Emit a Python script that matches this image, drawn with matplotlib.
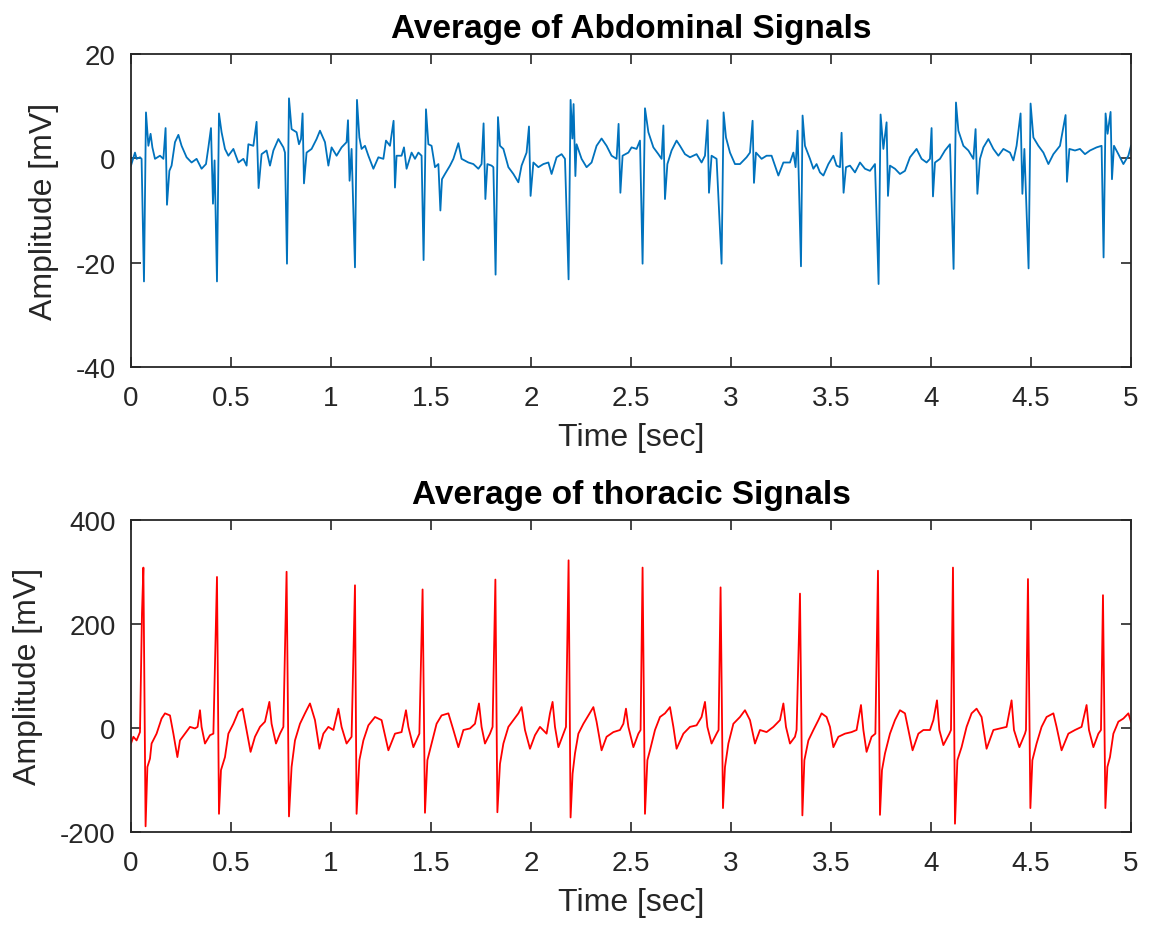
import matplotlib
matplotlib.use('Agg')
import matplotlib.pyplot as plt

plt.rc('font', family=['Liberation Sans', 'DejaVu Sans'])
plt.rc('axes', unicode_minus=False)

# Average of abdominal signals (time in sec, amplitude in mV)
abd_t = [
    0.000, 0.020, 0.028, 0.045, 0.053, 0.065, 0.075, 0.087, 0.098, 0.107,
    0.120, 0.145, 0.162, 0.173, 0.180, 0.192, 0.203, 0.220, 0.237, 0.253,
    0.278, 0.303, 0.328, 0.353, 0.375, 0.387, 0.400, 0.410, 0.418, 0.430,
    0.440, 0.453, 0.470, 0.487, 0.512, 0.537, 0.562, 0.578, 0.587, 0.612,
    0.628, 0.638, 0.653, 0.678, 0.695, 0.712, 0.737, 0.762, 0.770, 0.780,
    0.790, 0.803, 0.828, 0.840, 0.850, 0.858, 0.865, 0.878, 0.903, 0.928,
    0.945, 0.970, 0.987, 1.003, 1.028, 1.053, 1.078, 1.085, 1.093, 1.103,
    1.120, 1.130, 1.142, 1.153, 1.170, 1.187, 1.212, 1.237, 1.262, 1.275,
    1.295, 1.313, 1.320, 1.328, 1.353, 1.365, 1.378, 1.403, 1.420, 1.437,
    1.453, 1.463, 1.475, 1.487, 1.503, 1.520, 1.537, 1.547, 1.555, 1.570,
    1.595, 1.612, 1.637, 1.653,
    1.687, 1.712, 1.737, 1.753, 1.763, 1.772, 1.782, 1.803, 1.812, 1.823,
    1.835, 1.845, 1.862, 1.887, 1.912, 1.937, 1.953, 1.978, 1.990, 1.998,
    2.012, 2.037, 2.062, 2.087, 2.103, 2.128, 2.153, 2.170, 2.188, 2.198,
    2.207, 2.213, 2.222, 2.228, 2.253, 2.278, 2.303, 2.328, 2.353, 2.378,
    2.403, 2.428, 2.438, 2.447, 2.458, 2.487, 2.503, 2.528, 2.545, 2.558,
    2.570, 2.587, 2.612, 2.637, 2.653, 2.662, 2.670, 2.682, 2.703, 2.728,
    2.745, 2.770, 2.795, 2.828, 2.853, 2.870, 2.883, 2.890, 2.903, 2.928,
    2.953, 2.963, 2.975, 2.995, 3.020, 3.045, 3.078, 3.095, 3.108, 3.115,
    3.125, 3.153, 3.178, 3.203, 3.237, 3.262, 3.295,
    3.312, 3.323, 3.333, 3.350, 3.358, 3.370, 3.395, 3.412, 3.428, 3.445,
    3.462, 3.487, 3.512, 3.528, 3.545, 3.553, 3.563, 3.575, 3.595, 3.620,
    3.645, 3.670, 3.695, 3.720, 3.738, 3.748, 3.762, 3.778, 3.785, 3.795,
    3.820, 3.845, 3.870, 3.895, 3.928, 3.953, 3.978, 3.995, 4.003, 4.010,
    4.020, 4.045, 4.070, 4.095, 4.113, 4.125, 4.137, 4.162, 4.187, 4.212,
    4.223, 4.232, 4.245, 4.262, 4.287, 4.312, 4.337, 4.362, 4.395, 4.412,
    4.428, 4.448, 4.457, 4.467, 4.488, 4.498, 4.512, 4.537, 4.562, 4.587,
    4.612, 4.645, 4.673, 4.680, 4.692, 4.720, 4.745, 4.770, 4.795, 4.828,
    4.853, 4.863, 4.873, 4.883, 4.898, 4.905, 4.915, 4.937, 4.962, 4.987,
    5.000,
]
abd_mv = [
    -1.4, 1.1, -0.1, 0.2, -0.1, -23.6, 8.8, 2.4, 4.7, 2.1,
    -0.1, 0.5, -0.1, 5.8, -8.9, -2.4, -1.4, 3.1, 4.5, 2.4,
    0.2, -0.8, -0.1, -2.0, -1.1, 2.1, 5.8, -8.7, -0.4, -23.6,
    8.6, 5.0, 1.8, 0.5, 1.8, -0.8, -0.1, -1.4, 2.7, 2.4,
    7.0, -5.7, 0.8, 1.5, -1.4, 1.5, 3.7, 2.1, 1.1, -20.2,
    11.5, 5.6, 5.0, 2.7, 3.7, 8.6, -4.8, 1.1, 1.8, 3.7,
    5.3, 3.1, -1.4, 2.1, 0.5, 2.1, 3.1, 7.3, -4.3, 1.8,
    -20.9, 11.2, 4.0, 1.8, 2.4, 0.5, -2.0, 0.2, -0.1, 3.4,
    2.4, 7.2, -5.6, 0.5, 0.5, 2.1, -2.0, 1.1, -0.1, 1.1,
    0.5, -19.5, 9.4, 2.7, 2.4, -1.7, -1.1, -10.0, -4.0, -3.0,
    -1.4, -0.1, 2.9, -0.1,
    -0.8, -1.1, -2.0, -1.1, 6.7, -7.8, -1.1, -1.4, -1.7, -22.3,
    7.9, 2.4, 1.8, -1.7, -3.0, -4.6, -1.4, 1.1, 6.1, -7.2,
    -0.8, -1.7, -1.1, -0.8, -3.0, 0.2, 0.8, -0.1, -23.2, 11.2,
    3.8, 10.4, -3.4, 2.7, -0.1, -1.7, -0.8, 2.4, 3.8, 2.4,
    0.5, -0.1, 6.6, -6.6, 0.5, 1.1, 2.1, 1.8, 3.4, -20.2,
    9.6, 5.0, 2.1, 0.8, -0.1, 6.3, -7.8, -1.1, 1.5, 3.4,
    2.4, 0.8, 0.2, 0.8, -0.8, 0.5, 7.3, -6.6, 0.5, -0.1,
    -20.2, 8.8, 4.0, 1.1, -1.1, -1.1, 0.2, 1.1, 7.2, -4.7,
    1.1, -0.1, 0.5, 0.5, -3.3, -0.8, -0.8,
    1.1, -1.7, 5.3, -20.7, 8.2, 2.4, -0.1, -2.0, -1.1, -2.7,
    -3.3, -1.1, 0.5, -1.4, -1.7, 4.9, -6.6, -1.7, -1.4, -2.7,
    -0.8, -2.0, -2.4, -1.1, -24.1, 8.4, 1.8, 6.9, -7.2, -1.4,
    -2.0, -3.0, -2.4, 0.2, 1.8, -0.1, -0.8, -0.1, 5.8, -7.3,
    -0.8, -0.1, 1.5, 2.7, -21.2, 10.7, 5.3, 2.4, 1.5, -0.1,
    5.6, -6.8, -0.1, 2.1, 3.7, 1.8, 0.5, 1.8, 1.1, -0.4,
    2.4, 8.6, -6.8, 1.8, -21.1, 10.5, 4.0, 2.4, 1.1, -1.1,
    0.8, 2.4, 8.3, -4.5, 1.8, 1.5, 1.8, 0.8, 1.5, 2.1,
    2.4, -19.0, 8.6, 4.7, 8.9, -4.0, 2.4, 0.8, -1.1, 0.5,
    2.4,
]

# Average of thoracic signals (time in sec, amplitude in mV)
tho_t = [
    0.000, 0.012, 0.028, 0.045, 0.055, 0.062, 0.073, 0.082, 0.095, 0.103,
    0.128, 0.153, 0.170, 0.195, 0.212, 0.232, 0.245, 0.270, 0.295, 0.320,
    0.333, 0.345, 0.353, 0.370, 0.395, 0.412, 0.422, 0.430, 0.440, 0.450,
    0.470, 0.487, 0.512, 0.537, 0.558, 0.578, 0.598, 0.620, 0.645, 0.670,
    0.692, 0.703, 0.725, 0.745, 0.762, 0.778, 0.790, 0.803, 0.820, 0.845,
    0.870, 0.895, 0.920, 0.942, 0.962, 0.987, 1.012, 1.037, 1.053, 1.078,
    1.103, 1.120, 1.128, 1.142, 1.162, 1.187, 1.220, 1.253, 1.287, 1.320,
    1.353, 1.375, 1.387, 1.412, 1.442, 1.458, 1.470, 1.482, 1.503, 1.528,
    1.553, 1.587, 1.612, 1.637, 1.662,
    1.695, 1.720, 1.740, 1.753, 1.770, 1.795, 1.808, 1.822, 1.832, 1.845,
    1.862, 1.887, 1.912, 1.937, 1.953, 1.970, 1.995, 2.020, 2.045, 2.078,
    2.095, 2.108, 2.120, 2.137, 2.162, 2.175, 2.188, 2.198, 2.208, 2.220,
    2.237, 2.262, 2.287, 2.312, 2.328, 2.353, 2.378, 2.412, 2.445, 2.462,
    2.475, 2.487, 2.512, 2.537, 2.548, 2.558, 2.570, 2.582, 2.595, 2.620,
    2.645, 2.670, 2.695, 2.712, 2.728, 2.762, 2.795, 2.828, 2.853, 2.870,
    2.882, 2.903, 2.928, 2.938, 2.948, 2.960, 2.970, 2.987, 3.012, 3.045,
    3.070, 3.095, 3.120, 3.145, 3.178, 3.212, 3.245, 3.262, 3.275, 3.295,
    3.320,
    3.328, 3.345, 3.357, 3.367, 3.387, 3.412, 3.437, 3.453, 3.478, 3.495,
    3.512, 3.537, 3.570, 3.603, 3.628, 3.650, 3.662, 3.678, 3.703, 3.722,
    3.735, 3.745, 3.755, 3.770, 3.795, 3.820, 3.845, 3.870, 3.887, 3.908,
    3.937, 3.962, 3.995, 4.012, 4.030, 4.042, 4.062, 4.092, 4.100, 4.110,
    4.120, 4.132, 4.153, 4.178, 4.203, 4.228, 4.253, 4.278, 4.312, 4.345,
    4.378, 4.403, 4.415, 4.442, 4.470, 4.475, 4.485, 4.497, 4.507, 4.528,
    4.553, 4.578, 4.612, 4.628, 4.653, 4.687, 4.720, 4.753, 4.778, 4.790,
    4.812, 4.837, 4.850, 4.860, 4.872, 4.882, 4.895, 4.912, 4.937, 4.962,
    4.987, 5.000,
]
tho_mv = [
    -30, -17, -24, -8, 220, 308, -189, -75, -59, -30,
    -11, 18, 28, 24, -11, -56, -24, -11, 2, -1,
    2, 34, 2, -30, -14, -11, 156, 290, -165, -81,
    -56, -11, 8, 31, 37, -4, -46, -17, 2, 12,
    50, 8, -30, -11, 2, 300, -170, -75, -24, 8,
    28, 47, 15, -40, -11, 2, -4, 37, 2, -30,
    -17, 274, -165, -62, -24, 5, 21, 15, -43, -11,
    -8, 34, 2, -37, -11, 266, -163, -62, -30, 8,
    24, 28, -4, -37, -4,
    -1, 8, 47, 2, -30, -11, 2, 285, -162, -69,
    -30, 2, 15, 28, 40, -4, -40, -14, 2, -11,
    28, 50, 2, -37, -11, 2, 322, -172, -88, -49,
    -11, 8, 24, 40, 12, -43, -17, -8, -4, 8,
    37, 2, -37, -11, -4, 308, -165, -62, -43, -4,
    21, 28, 40, 2, -40, -11, 2, 5, 21, 50,
    2, -30, -11, -4, 270, -154, -75, -30, 8, 21,
    34, 15, -30, -4, -8, 2, 15, 47, 2, -30,
    -17,
    -4, 258, -168, -62, -24, -4, 15, 28, 21, 2,
    -37, -17, -11, -8, -4, 44, -4, -46, -17, -11,
    302, -167, -81, -49, -11, 15, 34, 28, -4, -43,
    -11, -4, -4, 15, 53, -4, -33, -11, -4, 308,
    -184, -62, -37, 2, 28, 37, 21, -40, -4, -1,
    2, 53, -4, -37, -11, -4, 286, -154, -62, -30,
    2, 21, 28, 2, -43, -11, -4, 2, 44, -4,
    -37, -11, -4, 255, -154, -75, -56, -11, 12, 18,
    28, 12,
]

ink = '#262626'

fig = plt.figure(figsize=(11.53, 9.29), dpi=100)
ax1 = fig.add_axes([0.1136, 0.6039, 0.8673, 0.3369])
ax2 = fig.add_axes([0.1136, 0.1033, 0.8673, 0.3362])

ax1.plot(abd_t, abd_mv, color='#0072BD', linewidth=1.3)
ax2.plot(tho_t, tho_mv, color='#FF0000', linewidth=1.3)

ax1.set_ylim(-40, 20)
ax1.set_yticks([-40, -20, 0, 20])
ax2.set_ylim(-200, 400)
ax2.set_yticks([-200, 0, 200, 400])

titles = ['Average of Abdominal Signals', 'Average of thoracic Signals']
for ax, ttl in zip([ax1, ax2], titles):
    ax.set_xlim(0, 5)
    ax.set_xticks([0, 0.5, 1, 1.5, 2, 2.5, 3, 3.5, 4, 4.5, 5])
    ax.set_xticklabels(['0', '0.5', '1', '1.5', '2', '2.5', '3', '3.5', '4', '4.5', '5'])
    ax.tick_params(direction='in', top=True, right=True, length=7, width=1.2,
                   colors=ink, labelsize=20)
    ax.tick_params(axis='x', pad=13)
    ax.tick_params(axis='y', pad=11)
    for s in ax.spines.values():
        s.set_color(ink)
        s.set_linewidth(1.3)
    ax.set_title(ttl, fontsize=24, fontweight='bold', color='black', pad=12)
    ax.set_xlabel('Time [sec]', fontsize=23, color=ink, labelpad=8)
    ax.set_ylabel('Amplitude [mV]', fontsize=23, color=ink, labelpad=12)

plt.savefig('out.png', dpi=100)
